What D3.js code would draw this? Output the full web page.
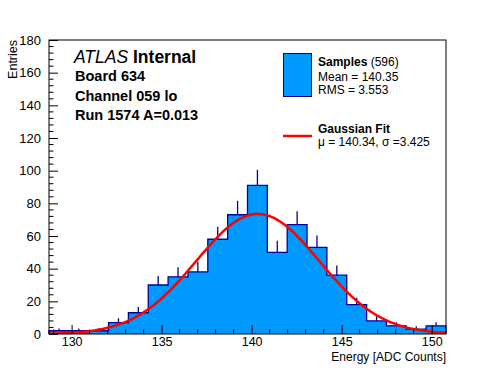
<!DOCTYPE html>
<html><head><meta charset="utf-8">
<script src="https://cdn.jsdelivr.net/npm/d3@7"></script>
<style>body{margin:0;background:#fff}svg{display:block;font-family:"Liberation Sans",Arial,sans-serif}</style>
</head><body>
<script>
// ---- data ----
const binLow = 128.745, binHigh = 150.795, nBins = 20;
const counts = [2, 2, 2, 7, 13, 30, 35, 38, 58, 73, 91, 50, 67, 53, 36, 18, 8, 5, 3, 5];
const xTicks = [130, 135, 140, 145, 150];
const yTicks = [0, 20, 40, 60, 80, 100, 120, 140, 160, 180];
const fitMu = 140.34, fitSigma = 3.425, fitAmp = 73.5;
const infoLines = ["Board 634", "Channel 059 lo", "Run 1574 A=0.013"];

const W = 496, H = 372;
const m = {left: 49, right: 446, top: 40, bottom: 334};
const svg = d3.select("body").append("svg").attr("width", W).attr("height", H);

const x = d3.scaleLinear().domain([binLow, binHigh]).range([m.left, m.right]);
const y = d3.scaleLinear().domain([0, 180]).range([m.bottom, m.top]);
const bw = (binHigh - binLow) / nBins;
const bins = counts.map((c, i) => ({x0: binLow + i * bw, x1: binLow + (i + 1) * bw, c}));

const fill = "#0099ff", edge = "#000099";

// filled histogram
const area = [];
bins.forEach(b => { area.push([x(b.x0), y(b.c)]); area.push([x(b.x1), y(b.c)]); });
const pathD = "M" + x(binLow) + "," + y(0) + "L" + area.map(p => p.join(",")).join("L") + "L" + x(binHigh) + "," + y(0) + "Z";
svg.append("path").attr("d", pathD).attr("fill", fill).attr("stroke", "none");
// outline (step)
const stepD = "M" + x(binLow) + "," + y(0) + "L" + area.map(p => p.join(",")).join("L") + "L" + x(binHigh) + "," + y(0);
svg.append("path").attr("d", stepD).attr("fill", "none").attr("stroke", edge).attr("stroke-width", 1.3);
// error bars (upper part)
svg.selectAll("line.err").data(bins).join("line")
  .attr("x1", d => x((d.x0 + d.x1) / 2)).attr("x2", d => x((d.x0 + d.x1) / 2))
  .attr("y1", d => y(d.c)).attr("y2", d => y(d.c + Math.sqrt(d.c)))
  .attr("stroke", edge).attr("stroke-width", 1.3);

// gaussian fit curve
svg.append("clipPath").attr("id", "clip").append("rect")
  .attr("x", m.left).attr("y", m.top).attr("width", m.right - m.left).attr("height", m.bottom - m.top);
const xs = d3.range(0, 201).map(i => binLow + (binHigh - binLow) * i / 200);
const line = d3.line().x(d => x(d)).y(d => y(fitAmp * Math.exp(-0.5 * Math.pow((d - fitMu) / fitSigma, 2))));
svg.append("path").attr("d", line(xs)).attr("fill", "none").attr("stroke", "#ff0000")
  .attr("stroke-width", 2.5).attr("clip-path", "url(#clip)");

// frame
svg.append("rect").attr("x", m.left).attr("y", m.top).attr("width", m.right - m.left).attr("height", m.bottom - m.top)
  .attr("fill", "none").attr("stroke", "#000").attr("stroke-width", 1);

// x axis
const xAxis = d3.axisBottom(x).tickValues(xTicks).tickSize(-9).tickPadding(3).tickFormat(d3.format("d"));
const gx = svg.append("g").attr("transform", `translate(0,${m.bottom})`).call(xAxis);
const xMinor = d3.range(129, 151).filter(v => xTicks.indexOf(v) < 0);
gx.selectAll("line.minor").data(xMinor).join("line").attr("class", "minor")
  .attr("x1", d => x(d)).attr("x2", d => x(d)).attr("y1", 0).attr("y2", -4.5).attr("stroke", "#000");
// y axis
const yAxis = d3.axisLeft(y).tickValues(yTicks).tickSize(-9).tickPadding(8);
const gy = svg.append("g").attr("transform", `translate(${m.left},0)`).call(yAxis);
const yMinor = d3.range(0, 181, 4).filter(v => v % 20 !== 0);
gy.selectAll("line.minor").data(yMinor).join("line").attr("class", "minor")
  .attr("x1", 0).attr("x2", 4.5).attr("y1", d => y(d)).attr("y2", d => y(d)).attr("stroke", "#000");
[gx, gy].forEach(g => {
  g.select(".domain").remove();
  g.selectAll("text").attr("font-size", 13).attr("fill", "#000").attr("font-family", "Liberation Sans, Arial, sans-serif");
});
gx.selectAll(".tick text").attr("dy", "0.71em").attr("font-size", 12.5);

// axis titles
svg.append("text").attr("x", m.right).attr("y", 361).attr("text-anchor", "end").attr("font-size", 12).text("Energy [ADC Counts]");
svg.append("text").attr("transform", `translate(17,${m.top}) rotate(-90)`).attr("text-anchor", "end").attr("font-size", 12.5).text("Entries");

// ATLAS label
const at = svg.append("text").attr("x", 74).attr("y", 63).attr("font-size", 17.5);
at.append("tspan").attr("font-style", "italic").text("ATLAS");
at.append("tspan").attr("font-weight", "bold").text(" Internal");
svg.selectAll("text.info").data(infoLines).join("text").attr("class", "info")
  .attr("x", 75).attr("y", (d, i) => 81 + i * 19.5).attr("font-size", 14.5).attr("font-weight", "bold").text(d => d);

// legend
svg.append("rect").attr("x", 283.5).attr("y", 53.5).attr("width", 28).attr("height", 43).attr("fill", fill).attr("stroke", edge).attr("stroke-width", 1);
const l1 = svg.append("text").attr("x", 318).attr("y", 66).attr("font-size", 12);
l1.append("tspan").attr("font-weight", "bold").text("Samples");
l1.append("tspan").text(" (596)");
svg.append("text").attr("x", 318).attr("y", 81).attr("font-size", 12).text("Mean = 140.35");
svg.append("text").attr("x", 318).attr("y", 94).attr("font-size", 12).text("RMS = 3.553");
svg.append("line").attr("x1", 283).attr("x2", 312).attr("y1", 136).attr("y2", 136).attr("stroke", "#ff0000").attr("stroke-width", 2.5);
svg.append("text").attr("x", 318).attr("y", 133).attr("font-size", 12).attr("font-weight", "bold").text("Gaussian Fit");
svg.append("text").attr("x", 318).attr("y", 146).attr("font-size", 12).text("\u03bc = 140.34, \u03c3 =3.425");
</script>
</body></html>
